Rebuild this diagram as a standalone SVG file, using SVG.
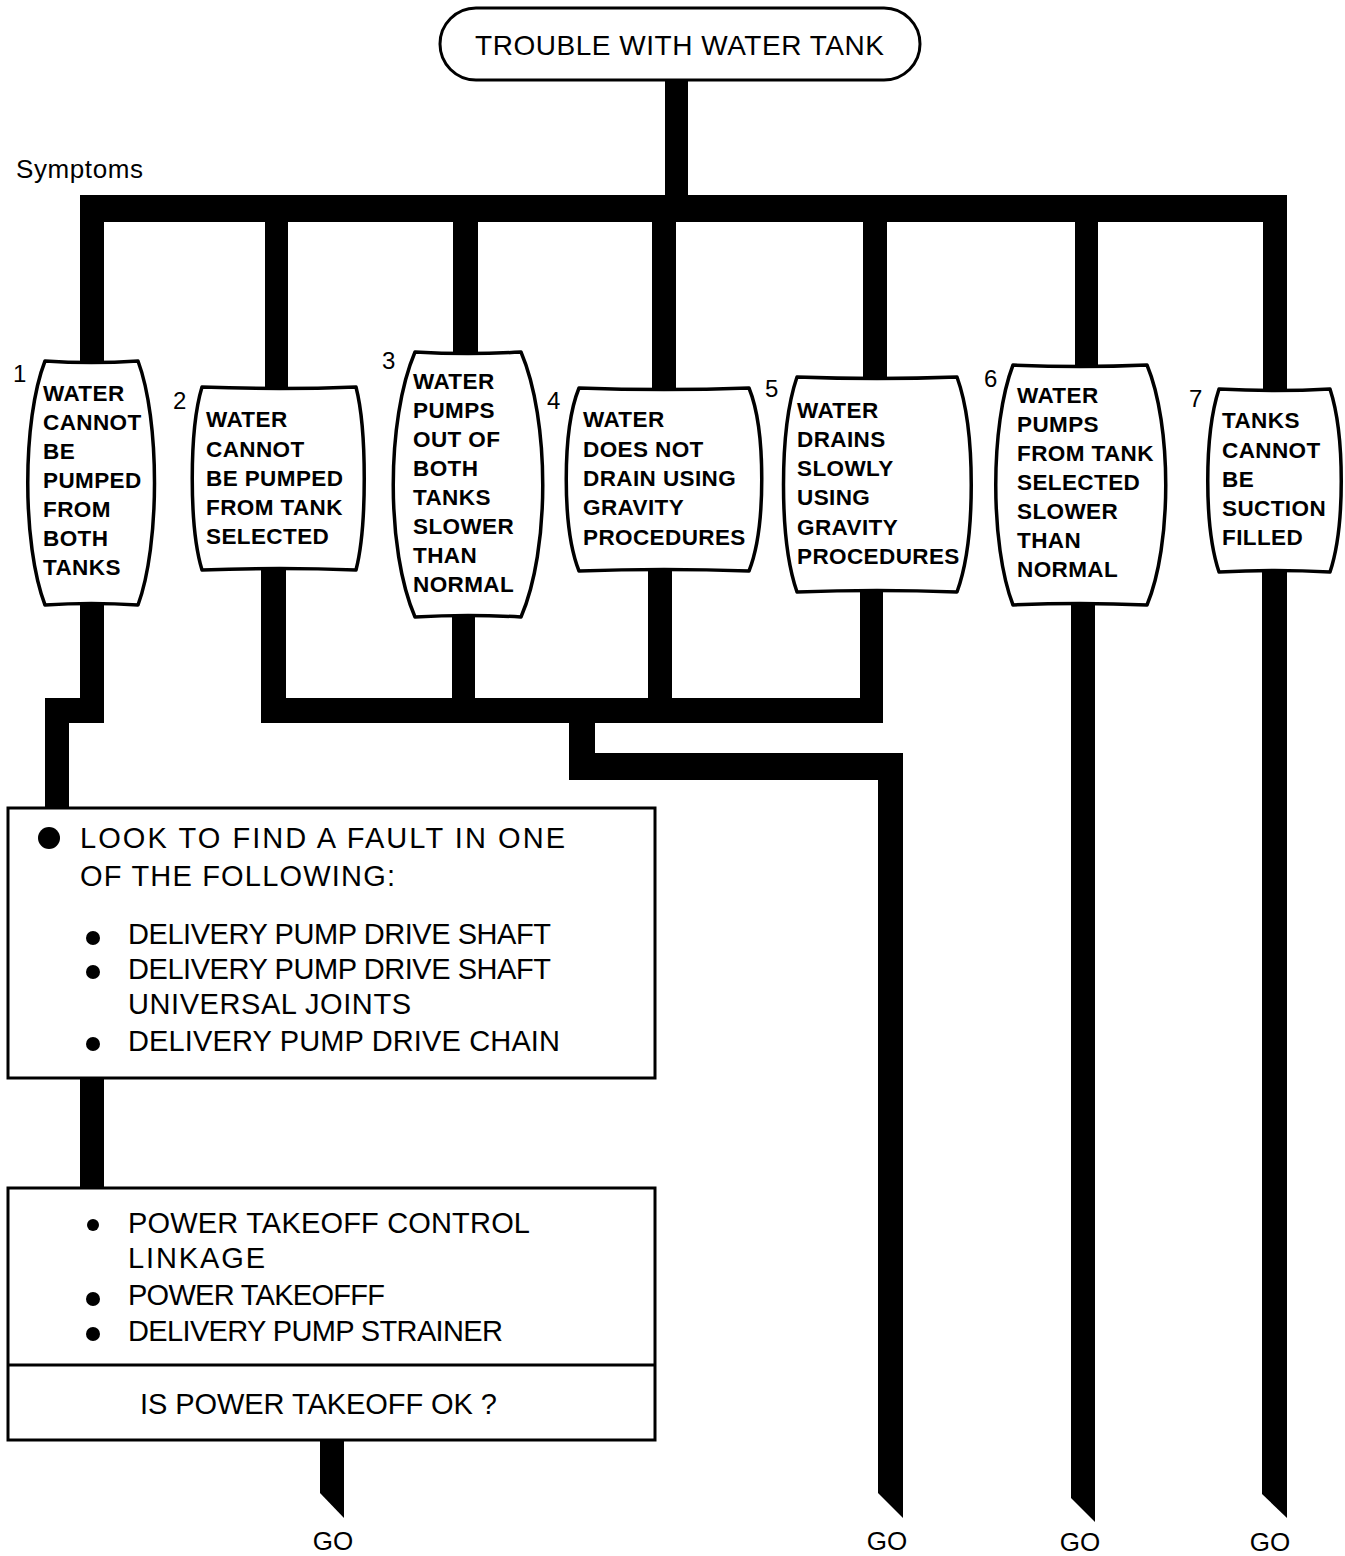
<svg xmlns="http://www.w3.org/2000/svg" width="1345" height="1556" viewBox="0 0 1345 1556">
<style>
.bg{fill:#fff}
.ln{fill:#000}
.nd{fill:#fff;stroke:#000;stroke-width:3.5;stroke-linejoin:round}
.bx{fill:#fff;stroke:#000;stroke-width:3}
.nt{font-family:"Liberation Sans",Arial,sans-serif;font-size:22.5px;font-weight:bold;letter-spacing:0.4px;fill:#000}
.num{font-family:"Liberation Sans",Arial,sans-serif;font-size:24px;fill:#000}
.bt{font-family:"Liberation Sans",Arial,sans-serif;font-size:29px;fill:#000}
.go{font-family:"Liberation Sans",Arial,sans-serif;font-size:26px;fill:#000;text-anchor:middle}
</style>
<rect class="bg" x="0" y="0" width="1345" height="1556"/>
<g id="connectors">
<rect class="ln" x="665" y="78" width="23" height="120"/>
<rect class="ln" x="80" y="195" width="1207" height="27"/>
<rect class="ln" x="80" y="220" width="24" height="145"/>
<rect class="ln" x="265" y="220" width="23" height="170"/>
<rect class="ln" x="453" y="220" width="25" height="135"/>
<rect class="ln" x="652" y="220" width="24" height="170"/>
<rect class="ln" x="863" y="220" width="24" height="160"/>
<rect class="ln" x="1075" y="220" width="23" height="148"/>
<rect class="ln" x="1263" y="220" width="24" height="172"/>
<polygon class="ln" points="80,600 104,600 104,723 69,723 69,810 45,810 45,698 80,698"/>
<polygon class="ln" points="261,566 286,566 286,698 452,698 452,614 475,614 475,698 648,698 648,566 672,566 672,698 860,698 860,588 883,588 883,723 595,723 595,753 903,753 903,1518 878,1493 878,780 569,780 569,723 261,723"/>
<polygon class="ln" points="1071,600 1095,600 1095,1522 1071,1498"/>
<polygon class="ln" points="1262,568 1287,568 1287,1518 1262,1494"/>
<rect class="ln" x="80" y="1076" width="24" height="114"/>
<polygon class="ln" points="320,1438 344,1438 344,1518 320,1493"/>
</g>
<g id="top">
<rect class="bx" x="440" y="8" width="480" height="72" rx="36"/>
<text x="475" y="55" font-family="Liberation Sans,Arial,sans-serif" font-size="28" textLength="409">TROUBLE WITH WATER TANK</text>
</g>
<text id="symptoms" x="16" y="178" font-family="Liberation Sans,Arial,sans-serif" font-size="26" textLength="127">Symptoms</text>
<g id="n1">
<path class="nd" d="M45,361 Q91,364 138,361 C160,420 160,545 138,605 Q91,602 45,605 C22,545 22,420 45,361 Z"/>
<text class="num" x="13" y="382">1</text>
<text class="nt"><tspan x="43" y="401">WATER</tspan><tspan x="43" y="430">CANNOT</tspan><tspan x="43" y="459">BE</tspan><tspan x="43" y="488">PUMPED</tspan><tspan x="43" y="517">FROM</tspan><tspan x="43" y="546">BOTH</tspan><tspan x="43" y="575">TANKS</tspan></text>
</g>
<g id="n2">
<path class="nd" d="M202,387 Q280,390 356,387 C367,430 367,527 356,570 Q280,567 202,570 C189,527 189,430 202,387 Z"/>
<text class="num" x="173" y="409">2</text>
<text class="nt"><tspan x="206" y="427">WATER</tspan><tspan x="206" y="457">CANNOT</tspan><tspan x="206" y="486">BE PUMPED</tspan><tspan x="206" y="515">FROM TANK</tspan><tspan x="206" y="544">SELECTED</tspan></text>
</g>
<g id="n3">
<path class="nd" d="M415,352 Q468,355 521,352 C550,420 550,550 521,617 Q468,614 415,617 C386,550 386,420 415,352 Z"/>
<text class="num" x="382" y="369">3</text>
<text class="nt"><tspan x="413" y="389">WATER</tspan><tspan x="413" y="418">PUMPS</tspan><tspan x="413" y="447">OUT OF</tspan><tspan x="413" y="476">BOTH</tspan><tspan x="413" y="505">TANKS</tspan><tspan x="413" y="534">SLOWER</tspan><tspan x="413" y="563">THAN</tspan><tspan x="413" y="592">NORMAL</tspan></text>
</g>
<g id="n4">
<path class="nd" d="M579,388 Q664,391 749,388 C766,430 766,528 749,571 Q664,568 579,571 C562,528 562,430 579,388 Z"/>
<text class="num" x="547" y="409">4</text>
<text class="nt"><tspan x="583" y="427">WATER</tspan><tspan x="583" y="457">DOES NOT</tspan><tspan x="583" y="486">DRAIN USING</tspan><tspan x="583" y="515">GRAVITY</tspan><tspan x="583" y="545">PROCEDURES</tspan></text>
</g>
<g id="n5">
<path class="nd" d="M797,377 Q877,380 957,377 C976,430 976,540 957,592 Q877,589 797,592 C779,540 779,430 797,377 Z"/>
<text class="num" x="765" y="397">5</text>
<text class="nt"><tspan x="797" y="418">WATER</tspan><tspan x="797" y="447">DRAINS</tspan><tspan x="797" y="476">SLOWLY</tspan><tspan x="797" y="505">USING</tspan><tspan x="797" y="535">GRAVITY</tspan><tspan x="797" y="564">PROCEDURES</tspan></text>
</g>
<g id="n6">
<path class="nd" d="M1013,365 Q1080,368 1147,365 C1172,425 1172,545 1147,605 Q1080,602 1013,605 C990,545 990,425 1013,365 Z"/>
<text class="num" x="984" y="387">6</text>
<text class="nt"><tspan x="1017" y="403">WATER</tspan><tspan x="1017" y="432">PUMPS</tspan><tspan x="1017" y="461">FROM TANK</tspan><tspan x="1017" y="490">SELECTED</tspan><tspan x="1017" y="519">SLOWER</tspan><tspan x="1017" y="548">THAN</tspan><tspan x="1017" y="577">NORMAL</tspan></text>
</g>
<g id="n7">
<path class="nd" d="M1219,389 Q1275,392 1330,389 C1345,435 1345,527 1330,572 Q1275,569 1219,572 C1204,527 1204,435 1219,389 Z"/>
<text class="num" x="1189" y="407">7</text>
<text class="nt"><tspan x="1222" y="428">TANKS</tspan><tspan x="1222" y="458">CANNOT</tspan><tspan x="1222" y="487">BE</tspan><tspan x="1222" y="516">SUCTION</tspan><tspan x="1222" y="545">FILLED</tspan></text>
</g>
<g id="box1">
<rect class="bx" x="8" y="808" width="647" height="270"/>
<circle cx="49" cy="838" r="11"/>
<text class="bt" x="80" y="848" textLength="485">LOOK TO FIND A FAULT IN ONE</text>
<text class="bt" x="80" y="886" textLength="315">OF THE FOLLOWING:</text>
<circle cx="93" cy="938" r="7"/>
<text class="bt" x="128" y="944" textLength="423">DELIVERY PUMP DRIVE SHAFT</text>
<circle cx="93" cy="972" r="7"/>
<text class="bt" x="128" y="979" textLength="423">DELIVERY PUMP DRIVE SHAFT</text>
<text class="bt" x="128" y="1014" textLength="283">UNIVERSAL JOINTS</text>
<circle cx="93" cy="1044" r="7"/>
<text class="bt" x="128" y="1051" textLength="432">DELIVERY PUMP DRIVE CHAIN</text>
</g>
<g id="box2">
<rect class="bx" x="8" y="1188" width="647" height="252"/>
<line x1="8" y1="1365" x2="655" y2="1365" stroke="#000" stroke-width="3"/>
<circle cx="93" cy="1225" r="6"/>
<text class="bt" x="128" y="1233" textLength="402">POWER TAKEOFF CONTROL</text>
<text class="bt" x="128" y="1268" textLength="137">LINKAGE</text>
<circle cx="93" cy="1299" r="7"/>
<text class="bt" x="128" y="1305" textLength="257">POWER TAKEOFFF</text>
<circle cx="93" cy="1334" r="7"/>
<text class="bt" x="128" y="1341" textLength="375">DELIVERY PUMP STRAINER</text>
<text class="bt" x="140" y="1414" textLength="357">IS POWER TAKEOFF OK ?</text>
</g>
<g id="go">
<text class="go" x="333" y="1550">GO</text>
<text class="go" x="887" y="1550">GO</text>
<text class="go" x="1080" y="1551">GO</text>
<text class="go" x="1270" y="1551">GO</text>
</g>
</svg>
